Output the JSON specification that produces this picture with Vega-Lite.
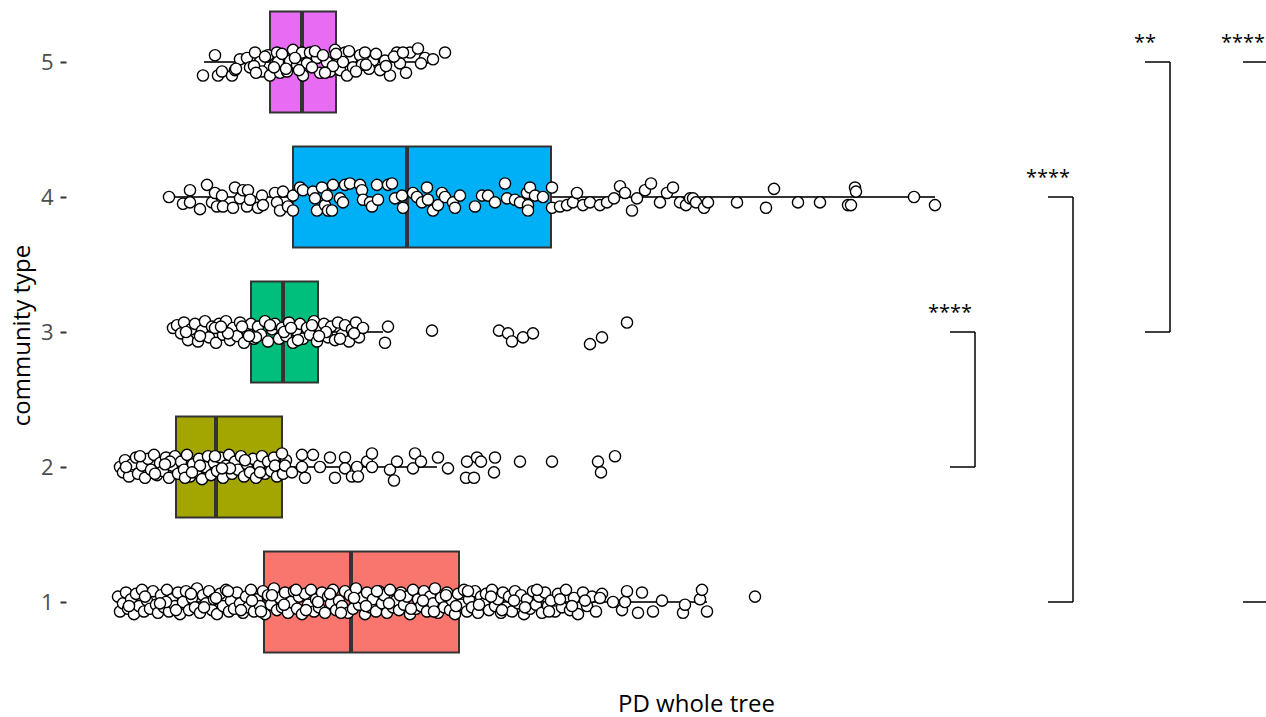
{
"$schema": "https://vega.github.io/schema/vega-lite/v6.json",
"autosize": "none",
"width": 1200,
"height": 670,
"padding": {"left": 66, "top": 0, "right": 0, "bottom": 47},
"background": "white",
"config": {"view": {"stroke": null}, "font": "Open Sans"},
"datasets": {
"box": [
{"c":1,"lo":5.2,"q1":19.8,"med":28.5,"q3":39.3,"hi":64.1},
{"c":2,"lo":5.4,"q1":11.0,"med":15.0,"q3":21.6,"hi":37.1},
{"c":3,"lo":10.7,"q1":18.5,"med":21.7,"q3":25.2,"hi":31.7},
{"c":4,"lo":9.9,"q1":22.7,"med":34.1,"q3":48.5,"hi":86.9},
{"c":5,"lo":13.8,"q1":20.4,"med":23.6,"q3":27.0,"hi":35.4}
],
"brk": [
{"g1":2,"g2":3,"xa":88.4,"xb":90.9,"lab":"****"},
{"g1":1,"g2":4,"xa":98.2,"xb":100.7,"lab":"****"},
{"g1":3,"g2":5,"xa":107.9,"xb":110.4,"lab":"**"},
{"g1":1,"g2":5,"xa":117.7,"xb":120.2,"lab":"****"}
],
"pts": [
{"c":1,"x":5.2,"y":1.04},{"c":1,"x":5.4,"y":0.93},{"c":1,"x":5.7,"y":0.99},{"c":1,"x":6.0,"y":1.07},{"c":1,"x":6.2,"y":0.95},{"c":1,"x":6.5,"y":1.02},{"c":1,"x":6.8,"y":0.91},{"c":1,"x":7.0,"y":1.06},{"c":1,"x":7.3,"y":0.97},{"c":1,"x":7.6,"y":1.09},{"c":1,"x":7.8,"y":0.93},{"c":1,"x":8.1,"y":1.01},{"c":1,"x":8.4,"y":0.95},{"c":1,"x":8.7,"y":1.08},{"c":1,"x":9.0,"y":0.98},{"c":1,"x":9.2,"y":0.92},{"c":1,"x":9.5,"y":1.05},{"c":1,"x":9.8,"y":0.96},{"c":1,"x":10.1,"y":1.09},{"c":1,"x":10.3,"y":0.93},{"c":1,"x":10.6,"y":1.02},{"c":1,"x":10.9,"y":0.97},{"c":1,"x":11.2,"y":1.07},{"c":1,"x":11.4,"y":0.91},{"c":1,"x":11.7,"y":1.0},{"c":1,"x":12.0,"y":1.08},{"c":1,"x":12.3,"y":0.94},{"c":1,"x":12.6,"y":1.03},{"c":1,"x":12.9,"y":0.96},{"c":1,"x":13.1,"y":1.1},{"c":1,"x":13.4,"y":0.92},{"c":1,"x":13.7,"y":1.05},{"c":1,"x":14.0,"y":0.99},{"c":1,"x":14.3,"y":1.08},{"c":1,"x":14.6,"y":0.94},{"c":1,"x":14.8,"y":1.02},{"c":1,"x":15.1,"y":0.91},{"c":1,"x":15.4,"y":1.06},{"c":1,"x":15.7,"y":0.97},{"c":1,"x":16.0,"y":1.09},{"c":1,"x":16.3,"y":0.93},{"c":1,"x":16.5,"y":1.01},{"c":1,"x":16.8,"y":0.95},{"c":1,"x":17.1,"y":1.07},{"c":1,"x":17.4,"y":0.99},{"c":1,"x":17.7,"y":0.92},{"c":1,"x":18.0,"y":1.04},{"c":1,"x":18.2,"y":0.96},{"c":1,"x":18.5,"y":1.09},{"c":1,"x":18.8,"y":0.93},{"c":1,"x":19.1,"y":1.02},{"c":1,"x":19.4,"y":0.97},{"c":1,"x":19.7,"y":1.08},{"c":1,"x":19.9,"y":0.91},{"c":1,"x":20.2,"y":1.05},{"c":1,"x":20.5,"y":0.98},{"c":1,"x":20.8,"y":1.1},{"c":1,"x":21.1,"y":0.94},{"c":1,"x":21.4,"y":1.03},{"c":1,"x":21.6,"y":0.96},{"c":1,"x":21.9,"y":1.07},{"c":1,"x":22.2,"y":0.92},{"c":1,"x":22.5,"y":1.0},{"c":1,"x":22.8,"y":1.08},{"c":1,"x":23.1,"y":0.95},{"c":1,"x":23.3,"y":1.04},{"c":1,"x":23.6,"y":0.91},{"c":1,"x":23.9,"y":1.06},{"c":1,"x":24.2,"y":0.98},{"c":1,"x":24.5,"y":1.09},{"c":1,"x":24.8,"y":0.93},{"c":1,"x":25.0,"y":1.02},{"c":1,"x":25.3,"y":0.96},{"c":1,"x":25.6,"y":1.07},{"c":1,"x":25.9,"y":0.92},{"c":1,"x":26.2,"y":1.04},{"c":1,"x":26.5,"y":0.99},{"c":1,"x":26.7,"y":1.09},{"c":1,"x":27.0,"y":0.94},{"c":1,"x":27.3,"y":1.01},{"c":1,"x":27.6,"y":0.97},{"c":1,"x":27.9,"y":1.08},{"c":1,"x":28.2,"y":0.92},{"c":1,"x":28.4,"y":1.05},{"c":1,"x":28.7,"y":0.95},{"c":1,"x":29.0,"y":1.1},{"c":1,"x":29.3,"y":0.98},{"c":1,"x":29.6,"y":1.03},{"c":1,"x":29.9,"y":0.91},{"c":1,"x":30.1,"y":1.07},{"c":1,"x":30.4,"y":0.96},{"c":1,"x":30.7,"y":1.02},{"c":1,"x":31.0,"y":0.93},{"c":1,"x":31.3,"y":1.08},{"c":1,"x":31.6,"y":0.99},{"c":1,"x":31.8,"y":1.05},{"c":1,"x":32.1,"y":0.92},{"c":1,"x":32.4,"y":1.09},{"c":1,"x":32.7,"y":0.96},{"c":1,"x":33.0,"y":1.01},{"c":1,"x":33.3,"y":0.94},{"c":1,"x":33.5,"y":1.07},{"c":1,"x":33.8,"y":0.98},{"c":1,"x":34.1,"y":1.04},{"c":1,"x":34.4,"y":0.91},{"c":1,"x":34.7,"y":1.09},{"c":1,"x":35.0,"y":0.95},{"c":1,"x":35.2,"y":1.02},{"c":1,"x":35.5,"y":0.97},{"c":1,"x":35.8,"y":1.08},{"c":1,"x":36.1,"y":0.93},{"c":1,"x":36.4,"y":1.04},{"c":1,"x":36.7,"y":0.99},{"c":1,"x":36.9,"y":1.1},{"c":1,"x":37.2,"y":0.92},{"c":1,"x":37.5,"y":1.03},{"c":1,"x":37.8,"y":0.96},{"c":1,"x":38.1,"y":1.07},{"c":1,"x":38.4,"y":0.94},{"c":1,"x":38.6,"y":1.01},{"c":1,"x":38.9,"y":0.91},{"c":1,"x":39.2,"y":1.06},{"c":1,"x":39.5,"y":0.98},{"c":1,"x":39.8,"y":1.09},{"c":1,"x":40.1,"y":0.93},{"c":1,"x":40.3,"y":1.02},{"c":1,"x":40.6,"y":0.96},{"c":1,"x":40.9,"y":1.08},{"c":1,"x":41.2,"y":0.92},{"c":1,"x":41.5,"y":1.04},{"c":1,"x":41.8,"y":0.99},{"c":1,"x":42.0,"y":1.06},{"c":1,"x":42.3,"y":0.94},{"c":1,"x":42.6,"y":1.09},{"c":1,"x":42.9,"y":0.97},{"c":1,"x":43.2,"y":1.02},{"c":1,"x":43.5,"y":0.92},{"c":1,"x":43.7,"y":1.07},{"c":1,"x":44.0,"y":0.96},{"c":1,"x":44.3,"y":1.04},{"c":1,"x":44.6,"y":0.93},{"c":1,"x":44.9,"y":1.08},{"c":1,"x":45.2,"y":0.99},{"c":1,"x":45.5,"y":1.05},{"c":1,"x":45.8,"y":0.91},{"c":1,"x":46.1,"y":1.02},{"c":1,"x":46.4,"y":0.95},{"c":1,"x":46.7,"y":1.08},{"c":1,"x":47.0,"y":0.98},{"c":1,"x":47.3,"y":1.04},{"c":1,"x":47.6,"y":0.92},{"c":1,"x":47.9,"y":1.07},{"c":1,"x":48.2,"y":0.97},{"c":1,"x":48.5,"y":1.01},{"c":1,"x":48.9,"y":0.93},{"c":1,"x":49.2,"y":1.06},{"c":1,"x":49.6,"y":0.96},{"c":1,"x":50.0,"y":1.09},{"c":1,"x":50.4,"y":0.94},{"c":1,"x":50.8,"y":1.03},{"c":1,"x":51.2,"y":0.91},{"c":1,"x":51.7,"y":1.07},{"c":1,"x":52.1,"y":0.97},{"c":1,"x":52.6,"y":1.04},{"c":1,"x":53.0,"y":0.93},{"c":1,"x":53.6,"y":1.06},
{"c":1,"x":10.0,"y":1.0},{"c":1,"x":11.0,"y":0.94},{"c":1,"x":12.5,"y":1.06},{"c":1,"x":13.8,"y":0.96},{"c":1,"x":15.0,"y":1.03},{"c":1,"x":16.2,"y":1.08},{"c":1,"x":17.5,"y":0.94},{"c":1,"x":18.6,"y":1.01},{"c":1,"x":19.5,"y":0.93},{"c":1,"x":20.6,"y":1.05},{"c":1,"x":21.8,"y":0.98},{"c":1,"x":23.0,"y":1.09},{"c":1,"x":24.0,"y":0.94},{"c":1,"x":25.2,"y":1.0},{"c":1,"x":26.4,"y":1.06},{"c":1,"x":27.5,"y":0.92},{"c":1,"x":28.8,"y":1.03},{"c":1,"x":30.0,"y":0.97},{"c":1,"x":31.1,"y":1.08},{"c":1,"x":32.3,"y":0.99},{"c":1,"x":33.4,"y":1.05},{"c":1,"x":34.5,"y":0.95},{"c":1,"x":35.7,"y":1.01},{"c":1,"x":36.8,"y":0.93},{"c":1,"x":38.0,"y":1.05},{"c":1,"x":39.0,"y":0.97},{"c":1,"x":40.2,"y":1.08},{"c":1,"x":41.3,"y":0.98},{"c":1,"x":42.5,"y":1.04},{"c":1,"x":43.6,"y":0.94},{"c":1,"x":44.8,"y":1.01},{"c":1,"x":45.9,"y":0.96},{"c":1,"x":47.1,"y":1.09},{"c":1,"x":48.3,"y":0.93},{"c":1,"x":49.4,"y":1.02},{"c":1,"x":50.6,"y":0.97},{"c":1,"x":51.9,"y":1.01},{"c":1,"x":6.3,"y":0.97},{"c":1,"x":7.9,"y":1.04},{"c":1,"x":9.4,"y":0.99},
{"c":1,"x":53.4,"y":1.03},{"c":1,"x":54.7,"y":1.0},{"c":1,"x":55.6,"y":0.94},{"c":1,"x":55.9,"y":1.0},{"c":1,"x":56.1,"y":1.08},{"c":1,"x":57.2,"y":0.92},{"c":1,"x":57.6,"y":1.07},{"c":1,"x":58.7,"y":0.93},{"c":1,"x":59.6,"y":1.01},{"c":1,"x":61.7,"y":0.92},{"c":1,"x":61.9,"y":0.98},{"c":1,"x":63.4,"y":1.02},{"c":1,"x":63.6,"y":1.09},{"c":1,"x":64.1,"y":0.93},{"c":1,"x":68.9,"y":1.04},
{"c":2,"x":5.4,"y":2.0},{"c":2,"x":5.7,"y":1.96},{"c":2,"x":5.9,"y":2.05},{"c":2,"x":6.3,"y":1.93},{"c":2,"x":6.6,"y":2.02},{"c":2,"x":7.0,"y":2.07},{"c":2,"x":7.2,"y":1.95},{"c":2,"x":7.6,"y":2.01},{"c":2,"x":7.9,"y":1.92},{"c":2,"x":8.2,"y":2.06},{"c":2,"x":8.5,"y":1.98},{"c":2,"x":8.8,"y":2.09},{"c":2,"x":9.1,"y":1.94},{"c":2,"x":9.4,"y":2.03},{"c":2,"x":9.7,"y":1.97},{"c":2,"x":10.0,"y":2.07},{"c":2,"x":10.3,"y":1.92},{"c":2,"x":10.6,"y":2.01},{"c":2,"x":10.9,"y":2.08},{"c":2,"x":11.2,"y":1.95},{"c":2,"x":11.5,"y":2.04},{"c":2,"x":11.8,"y":1.98},{"c":2,"x":12.1,"y":2.09},{"c":2,"x":12.4,"y":1.93},{"c":2,"x":12.7,"y":2.02},{"c":2,"x":13.0,"y":1.96},{"c":2,"x":13.3,"y":2.06},{"c":2,"x":13.6,"y":1.91},{"c":2,"x":13.9,"y":2.0},{"c":2,"x":14.2,"y":2.08},{"c":2,"x":14.5,"y":1.94},{"c":2,"x":14.8,"y":2.03},{"c":2,"x":15.1,"y":1.97},{"c":2,"x":15.4,"y":2.07},{"c":2,"x":15.7,"y":1.92},{"c":2,"x":16.0,"y":2.01},{"c":2,"x":16.3,"y":2.09},{"c":2,"x":16.6,"y":1.95},{"c":2,"x":16.9,"y":2.04},{"c":2,"x":17.2,"y":1.98},{"c":2,"x":17.5,"y":2.08},{"c":2,"x":17.8,"y":1.93},{"c":2,"x":18.1,"y":2.02},{"c":2,"x":18.4,"y":1.96},{"c":2,"x":18.7,"y":2.06},{"c":2,"x":19.0,"y":1.92},{"c":2,"x":19.3,"y":2.01},{"c":2,"x":19.6,"y":2.08},{"c":2,"x":19.9,"y":1.95},{"c":2,"x":20.2,"y":2.04},{"c":2,"x":20.5,"y":1.97},{"c":2,"x":20.8,"y":2.07},{"c":2,"x":21.1,"y":1.93},{"c":2,"x":21.4,"y":2.0},{"c":2,"x":21.7,"y":1.95},{"c":2,"x":22.0,"y":2.05},
{"c":2,"x":6.0,"y":2.0},{"c":2,"x":7.4,"y":2.08},{"c":2,"x":8.9,"y":1.95},{"c":2,"x":10.4,"y":2.04},{"c":2,"x":11.9,"y":1.92},{"c":2,"x":13.4,"y":2.01},{"c":2,"x":14.9,"y":2.08},{"c":2,"x":16.4,"y":1.99},{"c":2,"x":17.9,"y":2.05},{"c":2,"x":19.4,"y":1.96},{"c":2,"x":20.9,"y":2.01},{"c":2,"x":12.6,"y":1.96},{"c":2,"x":9.9,"y":2.02},{"c":2,"x":15.6,"y":1.99},
{"c":2,"x":21.6,"y":2.1},{"c":2,"x":21.9,"y":2.01},{"c":2,"x":22.6,"y":1.96},{"c":2,"x":23.6,"y":2.09},{"c":2,"x":23.6,"y":2.0},{"c":2,"x":23.9,"y":1.92},{"c":2,"x":24.7,"y":2.09},{"c":2,"x":25.4,"y":2.0},{"c":2,"x":26.4,"y":2.07},{"c":2,"x":26.9,"y":1.92},{"c":2,"x":27.9,"y":2.07},{"c":2,"x":27.9,"y":1.99},{"c":2,"x":28.6,"y":1.93},{"c":2,"x":29.1,"y":2.0},{"c":2,"x":29.2,"y":1.93},{"c":2,"x":30.1,"y":2.04},{"c":2,"x":30.6,"y":2.1},{"c":2,"x":30.6,"y":2.0},{"c":2,"x":32.4,"y":1.98},{"c":2,"x":32.8,"y":1.9},{"c":2,"x":33.1,"y":2.04},{"c":2,"x":34.7,"y":1.99},{"c":2,"x":34.9,"y":2.1},{"c":2,"x":35.5,"y":2.04},{"c":2,"x":37.2,"y":2.07},{"c":2,"x":38.2,"y":1.99},{"c":2,"x":40.0,"y":1.92},{"c":2,"x":40.1,"y":2.04},{"c":2,"x":40.8,"y":1.92},{"c":2,"x":41.1,"y":2.07},{"c":2,"x":41.5,"y":2.04},{"c":2,"x":42.8,"y":1.96},{"c":2,"x":42.9,"y":2.07},{"c":2,"x":45.4,"y":2.04},{"c":2,"x":48.6,"y":2.04},{"c":2,"x":53.2,"y":2.04},{"c":2,"x":53.5,"y":1.96},{"c":2,"x":54.9,"y":2.08},
{"c":3,"x":10.7,"y":3.03},{"c":3,"x":11.1,"y":3.05},{"c":3,"x":11.5,"y":2.99},{"c":3,"x":11.8,"y":3.07},{"c":3,"x":12.2,"y":2.94},{"c":3,"x":12.5,"y":3.02},{"c":3,"x":12.9,"y":3.06},{"c":3,"x":13.2,"y":2.93},{"c":3,"x":13.6,"y":3.01},{"c":3,"x":13.9,"y":3.08},{"c":3,"x":14.3,"y":2.96},{"c":3,"x":14.6,"y":3.04},{"c":3,"x":15.0,"y":2.92},{"c":3,"x":15.3,"y":3.06},{"c":3,"x":15.7,"y":2.98},{"c":3,"x":16.0,"y":3.08},{"c":3,"x":16.4,"y":2.94},{"c":3,"x":16.7,"y":3.03},{"c":3,"x":17.1,"y":2.97},{"c":3,"x":17.4,"y":3.07},{"c":3,"x":17.8,"y":2.92},{"c":3,"x":18.1,"y":3.01},{"c":3,"x":18.5,"y":3.06},{"c":3,"x":18.8,"y":2.95},{"c":3,"x":19.2,"y":3.04},{"c":3,"x":19.5,"y":2.98},{"c":3,"x":19.9,"y":3.08},{"c":3,"x":20.2,"y":2.93},{"c":3,"x":20.6,"y":3.02},{"c":3,"x":20.9,"y":3.06},{"c":3,"x":21.3,"y":2.95},{"c":3,"x":21.6,"y":3.03},{"c":3,"x":22.0,"y":2.97},{"c":3,"x":22.3,"y":3.07},{"c":3,"x":22.7,"y":2.92},{"c":3,"x":23.0,"y":3.01},{"c":3,"x":23.4,"y":3.06},{"c":3,"x":23.7,"y":2.95},{"c":3,"x":24.1,"y":3.03},{"c":3,"x":24.4,"y":2.98},{"c":3,"x":24.8,"y":3.08},{"c":3,"x":25.1,"y":2.93},{"c":3,"x":25.5,"y":3.02},{"c":3,"x":25.8,"y":3.06},{"c":3,"x":26.2,"y":2.96},{"c":3,"x":26.5,"y":3.04},{"c":3,"x":26.9,"y":2.94},{"c":3,"x":27.2,"y":3.07},{"c":3,"x":27.6,"y":2.98},{"c":3,"x":27.9,"y":3.05},{"c":3,"x":28.3,"y":2.93},{"c":3,"x":28.6,"y":3.02},{"c":3,"x":29.0,"y":3.07},{"c":3,"x":29.3,"y":2.96},{"c":3,"x":29.7,"y":3.03},
{"c":3,"x":12.0,"y":3.0},{"c":3,"x":13.4,"y":2.97},{"c":3,"x":14.9,"y":3.03},{"c":3,"x":16.2,"y":2.99},{"c":3,"x":17.6,"y":3.04},{"c":3,"x":19.0,"y":2.96},{"c":3,"x":20.4,"y":3.05},{"c":3,"x":21.8,"y":3.0},{"c":3,"x":23.2,"y":2.94},{"c":3,"x":24.6,"y":3.05},{"c":3,"x":26.0,"y":3.0},{"c":3,"x":27.4,"y":2.95},{"c":3,"x":28.8,"y":2.99},{"c":3,"x":15.5,"y":3.04},{"c":3,"x":18.3,"y":2.97},{"c":3,"x":22.5,"y":3.03},{"c":3,"x":25.3,"y":2.97},
{"c":3,"x":31.9,"y":2.92},{"c":3,"x":32.2,"y":3.04},{"c":3,"x":36.6,"y":3.01},{"c":3,"x":43.3,"y":3.01},{"c":3,"x":44.2,"y":2.99},{"c":3,"x":44.6,"y":2.93},{"c":3,"x":45.7,"y":2.96},{"c":3,"x":46.7,"y":2.99},{"c":3,"x":52.4,"y":2.91},{"c":3,"x":53.6,"y":2.96},{"c":3,"x":56.1,"y":3.07},
{"c":4,"x":10.3,"y":4.0},{"c":4,"x":11.7,"y":3.95},{"c":4,"x":12.4,"y":4.05},{"c":4,"x":12.4,"y":3.96},{"c":4,"x":13.4,"y":3.91},{"c":4,"x":14.1,"y":4.09},{"c":4,"x":14.6,"y":3.96},{"c":4,"x":14.9,"y":4.03},{"c":4,"x":15.1,"y":3.93},{"c":4,"x":15.6,"y":4.01},{"c":4,"x":15.7,"y":3.93},{"c":4,"x":16.9,"y":4.07},{"c":4,"x":16.7,"y":3.92},{"c":4,"x":17.4,"y":3.99},{"c":4,"x":17.7,"y":4.05},{"c":4,"x":18.1,"y":3.93},{"c":4,"x":18.2,"y":4.05},{"c":4,"x":18.4,"y":3.98},{"c":4,"x":19.2,"y":3.92},{"c":4,"x":19.6,"y":4.01},{"c":4,"x":19.7,"y":3.94},{"c":4,"x":20.9,"y":4.03},{"c":4,"x":21.1,"y":3.96},{"c":4,"x":21.4,"y":3.9},{"c":4,"x":21.7,"y":4.04},{"c":4,"x":22.2,"y":3.93},{"c":4,"x":22.7,"y":4.01},{"c":4,"x":22.7,"y":3.9},{"c":4,"x":23.4,"y":4.07},{"c":4,"x":23.7,"y":4.05},{"c":4,"x":24.7,"y":4.04},{"c":4,"x":24.9,"y":3.99},{"c":4,"x":25.1,"y":3.9},{"c":4,"x":25.6,"y":4.07},{"c":4,"x":25.9,"y":3.94},{"c":4,"x":26.1,"y":4.01},{"c":4,"x":26.2,"y":3.9},{"c":4,"x":26.6,"y":3.9},{"c":4,"x":26.7,"y":4.09},{"c":4,"x":27.4,"y":3.99},{"c":4,"x":27.7,"y":3.96},{"c":4,"x":27.9,"y":4.09},{"c":4,"x":28.4,"y":4.1},{"c":4,"x":29.4,"y":4.09},{"c":4,"x":29.6,"y":4.05},{"c":4,"x":29.7,"y":3.98},{"c":4,"x":30.4,"y":3.96},{"c":4,"x":30.6,"y":3.93},{"c":4,"x":31.1,"y":4.09},{"c":4,"x":31.2,"y":3.98},{"c":4,"x":32.2,"y":4.09},{"c":4,"x":32.6,"y":4.1},{"c":4,"x":32.9,"y":3.99},{"c":4,"x":33.6,"y":4.01},{"c":4,"x":33.7,"y":3.92},{"c":4,"x":34.7,"y":4.03},{"c":4,"x":35.1,"y":4.0},{"c":4,"x":35.6,"y":3.96},{"c":4,"x":36.1,"y":4.07},{"c":4,"x":36.2,"y":3.98},{"c":4,"x":36.7,"y":3.9},{"c":4,"x":37.2,"y":3.94},{"c":4,"x":37.6,"y":4.03},{"c":4,"x":37.9,"y":4.0},{"c":4,"x":38.7,"y":3.96},{"c":4,"x":38.9,"y":3.92},{"c":4,"x":39.4,"y":4.01},{"c":4,"x":40.9,"y":3.93},{"c":4,"x":41.6,"y":4.01},{"c":4,"x":42.2,"y":4.01},{"c":4,"x":42.9,"y":3.96},{"c":4,"x":43.9,"y":4.1},{"c":4,"x":44.1,"y":3.99},{"c":4,"x":44.9,"y":3.98},{"c":4,"x":45.4,"y":3.96},{"c":4,"x":46.1,"y":4.03},{"c":4,"x":46.2,"y":3.94},{"c":4,"x":46.2,"y":3.9},{"c":4,"x":46.4,"y":4.07},{"c":4,"x":46.9,"y":4.01},{"c":4,"x":47.7,"y":4.0},{"c":4,"x":48.6,"y":4.07},{"c":4,"x":48.6,"y":3.92},{"c":4,"x":49.4,"y":3.93},{"c":4,"x":50.1,"y":3.94},{"c":4,"x":50.7,"y":3.96},{"c":4,"x":51.1,"y":4.03},{"c":4,"x":51.7,"y":3.94},{"c":4,"x":52.4,"y":3.96},{"c":4,"x":53.4,"y":3.94},{"c":4,"x":54.1,"y":3.96},{"c":4,"x":54.8,"y":3.99},{"c":4,"x":55.4,"y":4.08},{"c":4,"x":55.9,"y":4.03},{"c":4,"x":56.6,"y":3.9},{"c":4,"x":57.1,"y":3.99},{"c":4,"x":57.9,"y":4.05},{"c":4,"x":58.5,"y":4.1},{"c":4,"x":59.4,"y":3.96},{"c":4,"x":60.1,"y":4.03},{"c":4,"x":60.7,"y":4.07},{"c":4,"x":61.4,"y":3.96},{"c":4,"x":62.0,"y":3.94},{"c":4,"x":62.4,"y":3.99},{"c":4,"x":62.7,"y":3.99},{"c":4,"x":63.0,"y":3.96},{"c":4,"x":63.8,"y":3.92},{"c":4,"x":64.2,"y":3.96},{"c":4,"x":67.1,"y":3.96},{"c":4,"x":70.0,"y":3.92},{"c":4,"x":70.8,"y":4.06},{"c":4,"x":73.2,"y":3.96},{"c":4,"x":75.4,"y":3.96},{"c":4,"x":78.2,"y":3.94},{"c":4,"x":78.5,"y":3.94},{"c":4,"x":78.9,"y":4.07},{"c":4,"x":79.0,"y":4.04},{"c":4,"x":84.8,"y":4.0},{"c":4,"x":86.9,"y":3.94},
{"c":5,"x":14.9,"y":5.05},{"c":5,"x":13.7,"y":4.9},{"c":5,"x":15.2,"y":4.9},{"c":5,"x":15.6,"y":4.93},{"c":5,"x":16.6,"y":4.9},{"c":5,"x":16.9,"y":4.94},{"c":5,"x":17.4,"y":5.02},{"c":5,"x":18.1,"y":5.03},{"c":5,"x":18.4,"y":4.96},{"c":5,"x":18.9,"y":5.07},{"c":5,"x":19.4,"y":5.0},{"c":5,"x":19.6,"y":4.93},{"c":5,"x":20.2,"y":5.05},{"c":5,"x":20.4,"y":4.9},{"c":5,"x":21.1,"y":5.07},{"c":5,"x":21.2,"y":5.0},{"c":5,"x":21.4,"y":4.92},{"c":5,"x":22.1,"y":4.93},{"c":5,"x":22.4,"y":5.01},{"c":5,"x":22.7,"y":5.09},{"c":5,"x":23.1,"y":4.98},{"c":5,"x":23.6,"y":5.07},{"c":5,"x":23.7,"y":4.9},{"c":5,"x":24.1,"y":4.99},{"c":5,"x":24.4,"y":5.07},{"c":5,"x":25.1,"y":5.03},{"c":5,"x":25.4,"y":4.92},{"c":5,"x":26.1,"y":5.0},{"c":5,"x":26.4,"y":4.93},{"c":5,"x":26.9,"y":5.09},{"c":5,"x":27.2,"y":5.01},{"c":5,"x":27.4,"y":4.94},{"c":5,"x":27.9,"y":5.07},{"c":5,"x":28.1,"y":4.9},{"c":5,"x":28.6,"y":5.03},{"c":5,"x":28.7,"y":4.96},{"c":5,"x":29.4,"y":5.05},{"c":5,"x":29.6,"y":4.98},{"c":5,"x":30.7,"y":5.01},{"c":5,"x":31.4,"y":4.94},{"c":5,"x":31.9,"y":5.01},{"c":5,"x":32.4,"y":4.9},{"c":5,"x":33.1,"y":5.07},{"c":5,"x":33.4,"y":4.99},{"c":5,"x":34.4,"y":5.07},{"c":5,"x":35.2,"y":5.1},{"c":5,"x":35.9,"y":5.03},{"c":5,"x":37.9,"y":5.07},
{"c":5,"x":18.8,"y":4.97},{"c":5,"x":19.9,"y":5.04},{"c":5,"x":20.8,"y":4.96},{"c":5,"x":21.6,"y":5.06},{"c":5,"x":22.0,"y":4.95},{"c":5,"x":22.9,"y":5.03},{"c":5,"x":23.3,"y":4.94},{"c":5,"x":24.6,"y":4.96},{"c":5,"x":24.9,"y":5.08},{"c":5,"x":25.7,"y":5.05},{"c":5,"x":26.7,"y":4.97},{"c":5,"x":27.7,"y":5.0},{"c":5,"x":28.3,"y":5.08},{"c":5,"x":29.0,"y":4.93},{"c":5,"x":29.9,"y":5.07},{"c":5,"x":30.3,"y":4.95},{"c":5,"x":31.0,"y":5.06},{"c":5,"x":32.0,"y":4.97},{"c":5,"x":32.8,"y":5.04},{"c":5,"x":34.0,"y":4.92},{"c":5,"x":35.5,"y":4.99},{"c":5,"x":36.7,"y":5.02},{"c":5,"x":17.0,"y":4.95},{"c":5,"x":19.0,"y":4.92},{"c":5,"x":25.9,"y":4.92},{"c":5,"x":27.0,"y":5.06},{"c":5,"x":30.0,"y":4.98},{"c":5,"x":33.7,"y":5.07}
]
},
"encoding": {
"y": {"type": "quantitative", "scale": {"domain": [0.4963, 5.4593], "nice": false, "zero": false, "padding": 0},
 "axis": {"title": "community type", "values": [1,2,3,4,5], "format": "d", "grid": false, "domain": false, "tickColor": "#333333", "tickWidth": 2, "tickSize": 6, "labelPadding": 7, "labelColor": "#4D4D4D", "labelFontSize": 22, "labelFont": "Open Sans", "titleFont": "Open Sans", "titleFontSize": 24, "titleFontWeight": "normal", "titleColor": "black", "titlePadding": 6}}
},
"layer": [
{"data": {"name": "box"}, "mark": {"type": "rule", "color": "#333333", "strokeWidth": 2},
 "encoding": {"x": {"field": "lo", "type": "quantitative", "scale": {"domain": [0, 120], "nice": false, "zero": false, "padding": 0}, "axis": {"title": "PD whole tree", "labels": false, "ticks": false, "domain": false, "grid": false, "titleFont": "Open Sans", "titleFontSize": 24, "titleFontWeight": "normal", "titleColor": "black", "titlePadding": 22, "titleX": 630, "titleAnchor": "middle", "titleAlign": "center"}}, "x2": {"field": "hi"}, "y": {"field": "c", "type": "quantitative"}}},
{"data": {"name": "box"}, "mark": {"type": "bar", "orient": "horizontal", "size": 101, "stroke": "#333333", "strokeWidth": 2},
 "encoding": {"x": {"field": "q1", "type": "quantitative"}, "x2": {"field": "q3"}, "y": {"field": "c", "type": "quantitative"},
 "fill": {"field": "c", "type": "nominal", "scale": {"domain": [1,2,3,4,5], "range": ["#F8766D", "#A3A500", "#00BF7D", "#00B0F6", "#E76BF3"]}, "legend": null}}},
{"data": {"name": "box"}, "mark": {"type": "tick", "orient": "vertical", "size": 101, "thickness": 4, "color": "#333333", "opacity": 1},
 "encoding": {"x": {"field": "med", "type": "quantitative"}, "y": {"field": "c", "type": "quantitative"}}},
{"data": {"name": "pts"}, "mark": {"type": "point", "shape": "circle", "filled": true, "fill": "white", "stroke": "black", "strokeWidth": 1.4, "size": 125, "opacity": 1},
 "encoding": {"x": {"field": "x", "type": "quantitative"}, "y": {"field": "y", "type": "quantitative"}}},
{"data": {"name": "brk"}, "mark": {"type": "rule", "color": "black", "strokeWidth": 1.5},
 "encoding": {"x": {"field": "xa", "type": "quantitative"}, "x2": {"field": "xb"}, "y": {"field": "g1", "type": "quantitative"}}},
{"data": {"name": "brk"}, "mark": {"type": "rule", "color": "black", "strokeWidth": 1.5},
 "encoding": {"x": {"field": "xa", "type": "quantitative"}, "x2": {"field": "xb"}, "y": {"field": "g2", "type": "quantitative"}}},
{"data": {"name": "brk"}, "mark": {"type": "rule", "color": "black", "strokeWidth": 1.5},
 "encoding": {"x": {"field": "xb", "type": "quantitative"}, "y": {"field": "g1", "type": "quantitative"}, "y2": {"field": "g2"}}},
{"data": {"name": "brk"}, "mark": {"type": "text", "dy": -19, "fontSize": 20, "font": "Open Sans", "color": "black", "baseline": "middle", "align": "center"},
 "encoding": {"x": {"field": "xa", "type": "quantitative"}, "y": {"field": "g2", "type": "quantitative"}, "text": {"field": "lab"}}}
]
}
